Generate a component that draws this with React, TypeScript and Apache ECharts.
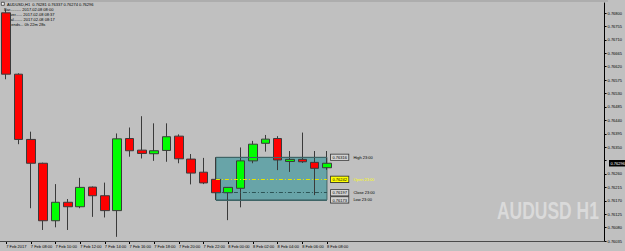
import React, { useEffect, useRef } from "react";
import * as echarts from "echarts";

// ---- data (AUDUSD H1) ----
const timeLabels = [
  "7 Feb 2017", "7 Feb 07:00", "7 Feb 08:00", "7 Feb 09:00", "7 Feb 10:00", "7 Feb 11:00",
  "7 Feb 12:00", "7 Feb 13:00", "7 Feb 14:00", "7 Feb 15:00", "7 Feb 16:00", "7 Feb 17:00",
  "7 Feb 18:00", "7 Feb 19:00", "7 Feb 20:00", "7 Feb 21:00", "7 Feb 22:00", "7 Feb 23:00",
  "8 Feb 00:00", "8 Feb 01:00", "8 Feb 02:00", "8 Feb 03:00", "8 Feb 04:00", "8 Feb 05:00",
  "8 Feb 06:00", "8 Feb 07:00", "8 Feb 08:00",
];
const opens = [
  0.76801, 0.76595, 0.76376, 0.76296, 0.76103, 0.76165, 0.7615, 0.76216, 0.76187, 0.76137,
  0.76379, 0.7634, 0.76328, 0.76339, 0.76387, 0.7631, 0.76266, 0.76242, 0.76197, 0.76212,
  0.76304, 0.76363, 0.76379, 0.76302, 0.76309, 0.76299, 0.76281,
];
const highs = [
  0.76812, 0.76598, 0.76402, 0.76298, 0.76226, 0.76176, 0.76247, 0.76218, 0.76231, 0.76396,
  0.76416, 0.76454, 0.7643, 0.7643, 0.76393, 0.76327, 0.76314, 0.76316, 0.76216, 0.76349,
  0.76371, 0.76391, 0.76387, 0.76337, 0.76399, 0.76337, 0.76337,
];
const lows = [
  0.76578, 0.7636, 0.76145, 0.76072, 0.76081, 0.76072, 0.76145, 0.76116, 0.76114, 0.76049,
  0.76318, 0.76312, 0.76304, 0.76301, 0.76296, 0.76225, 0.76226, 0.76173, 0.76105, 0.76148,
  0.76296, 0.76335, 0.76273, 0.76267, 0.76297, 0.76189, 0.76274,
];
const closes = [
  0.76595, 0.76376, 0.76296, 0.76103, 0.76165, 0.7615, 0.76215, 0.76187, 0.76137, 0.76378,
  0.76338, 0.76329, 0.76338, 0.76385, 0.76311, 0.76263, 0.7623, 0.76197, 0.76215, 0.76304,
  0.7636, 0.76377, 0.76307, 0.76309, 0.76301, 0.76279, 0.76296,
];
const bidPrice = 0.76296;
const refIndex = 17; // 23:00 bar
const refLevels = [
  { name: "High 23:00", price: 0.76316, kind: "high" },
  { name: "Open 23:00", price: 0.76242, kind: "open" },
  { name: "Close 23:00", price: 0.76197, kind: "close" },
  { name: "Low 23:00", price: 0.76173, kind: "low" },
];
const axisBase = 0.76035;
const axisTop = 0.76834;
const axisStep = 0.00045;
const infoTitle = "AUDUSD,H1  0.76281 0.76337 0.76274 0.76296";
const infoLines = [
  "Bar.......... 2017.02.08 08:00",
  "Server...... 2017.02.08 08:37",
  "Local........ 2017.02.08 08:17",
  "Bar ends... 0h 22m 28s",
];
const watermark = "AUDUSD H1";
const totalSlots = 49;

const FONT = '"Liberation Sans", Arial, sans-serif';

export default function App() {
  const ref = useRef<HTMLDivElement>(null);
  useEffect(() => {
    document.body.style.margin = "0";
    const chart = echarts.init(ref.current!, null, { renderer: "svg" });
    const off = (p: number) => Math.round((p - axisBase) * 1e6) / 1e6;
    const n = timeLabels.length;
    const categories = timeLabels.concat(
      Array.from({ length: totalSlots - n }, (_, i) => "slot" + (i + 1))
    );
    const data = opens.map((o, i) => [off(o), off(closes[i]), off(lows[i]), off(highs[i])]);
    const last = n - 1;
    const hi = refLevels.find((l) => l.kind === "high")!;
    const lo = refLevels.find((l) => l.kind === "low")!;

    const levelLines = refLevels.map((l) => {
      const isOpen = l.kind === "open";
      const lineColor =
        l.kind === "open" ? "#e6e600" : l.kind === "close" ? "#2c5456" : "#3e6466";
      const dashed = l.kind === "open" || l.kind === "close";
      return [
        {
          coord: [refIndex, off(l.price)],
          lineStyle: {
            color: lineColor,
            width: 1,
            type: dashed ? [4, 2, 1, 2] : "solid",
          },
          label: {
            show: true,
            position: "end",
            distance: 4,
            formatter: `{b|${l.price.toFixed(5)}}{t|${l.name}}`,
            rich: {
              b: {
                backgroundColor: isOpen ? "#ffff00" : "#d2d2d2",
                borderColor: "#333",
                borderWidth: 0.8,
                padding: [1, 1.5, 0.5, 1.5],
                fontSize: 4,
                fontFamily: FONT,
                color: "#000",
              },
              t: {
                fontSize: 4,
                fontFamily: FONT,
                color: isOpen ? "#ffff00" : "#000",
                padding: [0, 0, 0, 5],
              },
            },
          },
        },
        { coord: [last, off(l.price)] },
      ];
    });

    const staticGraphics: any[] = [
      { id: "topband", type: "rect", left: 0, top: 0, shape: { width: 608, height: 2 }, style: { fill: "#adadad" } },
      {
        id: "wm",
        type: "text",
        x: 497,
        y: 200,
        scaleX: 0.76,
        style: {
          text: watermark,
          fontSize: 23,
          fontWeight: "bold",
          fontFamily: '"Liberation Sans", Arial, sans-serif',
          fill: "#dadada",
          verticalAlign: "top",
        },
      },
      {
        id: "icon",
        type: "rect",
        left: 1,
        top: 2,
        shape: { width: 3, height: 3 },
        style: { fill: "#fff", stroke: "#000", lineWidth: 0.6 },
      },
      {
        id: "title",
        type: "text",
        left: 7,
        top: 2,
        style: { text: infoTitle, fontSize: 4, fontFamily: FONT, fill: "#000" },
      },
      ...infoLines.map((t, i) => ({
        id: "info" + i,
        type: "text",
        left: 4,
        top: 7.3 + i * 5,
        style: { text: t, fontSize: 4, fontFamily: FONT, fill: "#000" },
      })),
    ];

    chart.setOption({
      animation: false,
      backgroundColor: "#c0c0c0",
      grid: { left: -4.5, right: 17, top: 3, bottom: 10, containLabel: false },
      xAxis: {
        type: "category",
        data: categories,
        boundaryGap: true,
        axisLine: { show: true, onZero: false, lineStyle: { color: "#000", width: 1 } },
        axisTick: {
          show: true,
          alignWithLabel: true,
          length: 3,
          interval: (i: number) => i % 2 === 0 && i < n,
          lineStyle: { color: "#000" },
        },
        axisLabel: {
          interval: 1,
          align: "left",
          margin: 3,
          fontSize: 4,
          fontFamily: FONT,
          color: "#000",
          formatter: (v: string, i: number) => (i < n ? v : ""),
        },
        splitLine: { show: false },
      },
      yAxis: {
        type: "value",
        position: "right",
        min: 0,
        max: off(axisTop),
        interval: axisStep,
        axisLine: { show: true, lineStyle: { color: "#000", width: 1 } },
        axisTick: { show: true, length: 2, lineStyle: { color: "#000" } },
        axisLabel: {
          fontSize: 4,
          fontFamily: FONT,
          margin: 3,
          color: "#000",
          showMaxLabel: false,
          // the level under the current-price box is covered in the terminal
          formatter: (v: number) =>
            Math.abs(v + axisBase - bidPrice) < 0.0002 ? "" : (v + axisBase).toFixed(5),
        },
        splitLine: { show: false },
      },
      series: [
        {
          type: "candlestick",
          data,
          barWidth: 9,
          itemStyle: {
            color: "#00ff00",
            color0: "#ff0000",
            borderColor: "#3a3a3a",
            borderColor0: "#3a3a3a",
            borderWidth: 1,
          },
          markArea: {
            silent: true,
            itemStyle: { color: "#68a4a8", borderColor: "#3e6466", borderWidth: 1 },
            data: [[{ coord: [refIndex, off(hi.price)] }, { coord: [last, off(lo.price)] }]],
          },
          markLine: {
            silent: true,
            symbol: ["none", "none"],
            label: { show: false },
            data: [
              {
                yAxis: off(bidPrice),
                lineStyle: { color: "#4a4a4a", width: 1, type: "solid" },
                label: { show: false },
              },
              ...levelLines,
            ],
          },
        },
      ],
      graphic: staticGraphics,
    });

    const py = chart.convertToPixel({ yAxisIndex: 0 }, off(bidPrice)) as number;
    chart.setOption({
      graphic: [
        ...staticGraphics,
        {
          id: "bidlabel",
          type: "text",
          x: 609,
          y: py,
          z: 100,
          style: {
            text: bidPrice.toFixed(5),
            fontSize: 4,
            fontFamily: FONT,
            fill: "#fff",
            backgroundColor: "#000",
            padding: [1.5, 1.5, 1, 1.5],
            verticalAlign: "middle",
            align: "left",
          },
        },
      ],
    });
    return () => chart.dispose();
  }, []);
  return <div ref={ref} style={{ width: 625, height: 251, background: "#c0c0c0" }} />;
}
